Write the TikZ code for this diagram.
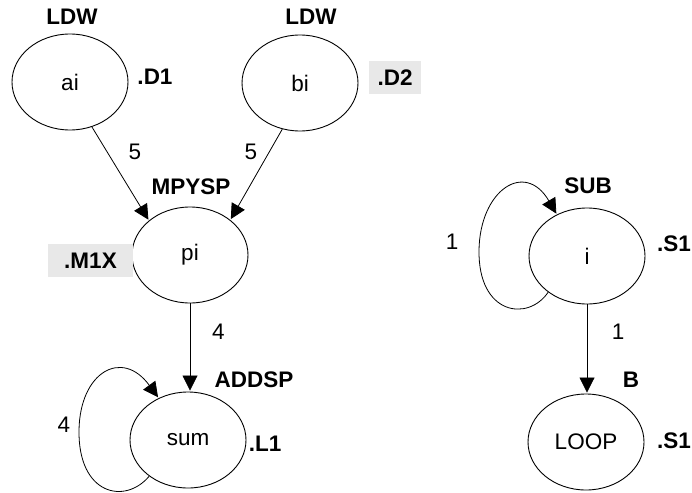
\documentclass[tikz,border=0pt]{standalone}
\usepackage{fontspec}
\setmainfont{Liberation Sans}
\usetikzlibrary{shapes.geometric,arrows.meta}
\begin{document}
\begin{tikzpicture}[x=1pt,y=-1pt,
  every node/.style={font=\fontsize{22.5}{26}\selectfont},
  op/.style={ellipse,draw,line width=0.9pt,minimum width=116pt,minimum height=96pt,inner sep=0pt},
  lbl/.style={font=\fontsize{22.5}{26}\selectfont\bfseries},
  hl/.style={lbl,fill=gray!18,minimum height=33pt,inner sep=0pt},
  conn/.style={-{Triangle[length=15pt,width=15pt]},line width=0.8pt,shorten >=1pt}
]
\path[use as bounding box] (0,0) rectangle (692,492);
% operation nodes
\node[op] (ai) at (70,82) {ai};
\node[op] (bi) at (300,83) {bi};
\node[op] (pi) at (190,255) {pi};
\node[op] (sum) at (188,440) {sum};
\node[op] (i) at (587,256) {i};
\node[op] (loop) at (586,442) {LOOP};
% instruction labels
\node[lbl] (l1) at (72,17) {LDW};
\node[lbl] (l2) at (311,17) {LDW};
\node[lbl] (l3) at (191,187) {MPYSP};
\node[lbl] (l4) at (254,380) {ADDSP};
\node[lbl] (l5) at (588,186) {SUB};
\node[lbl] (l6) at (631,380) {B};
% unit labels
\node[lbl] (u1) at (155,77) {.D1};
\node[hl,minimum width=52pt] (u2) at (395,77.5) {.D2};
\node[hl,minimum width=85pt] (u3) at (90.5,260.5) {.M1X};
\node[lbl] (u4) at (265,444) {.L1};
\node[lbl] (u5) at (674,244) {.S1};
\node[lbl] (u6) at (674,441) {.S1};
% edges
\draw[conn] (ai.296) -- (pi.140);
\draw[conn] (bi.249) -- (pi.41);
\draw[conn] (pi.south) -- (pi.south |- sum.north);
\draw[conn] (i.south) -- (i.south |- loop.north);
\draw[conn] (sum.223) .. controls (125,505) and (78,495) .. (79,430)
  .. controls (80,372) and (122,348) .. (sum.125);
\draw[conn] (i.223) .. controls (528,322) and (478,315) .. (479,250)
  .. controls (480,190) and (525,160) .. (i.126);
% latencies
\node (n1) at (135,152) {5};
\node (n2) at (251,152) {5};
\node (n3) at (218.5,332) {4};
\node (n4) at (64,425) {4};
\node (n5) at (452,242) {1};
\node (n6) at (618,332) {1};
\end{tikzpicture}
\end{document}
